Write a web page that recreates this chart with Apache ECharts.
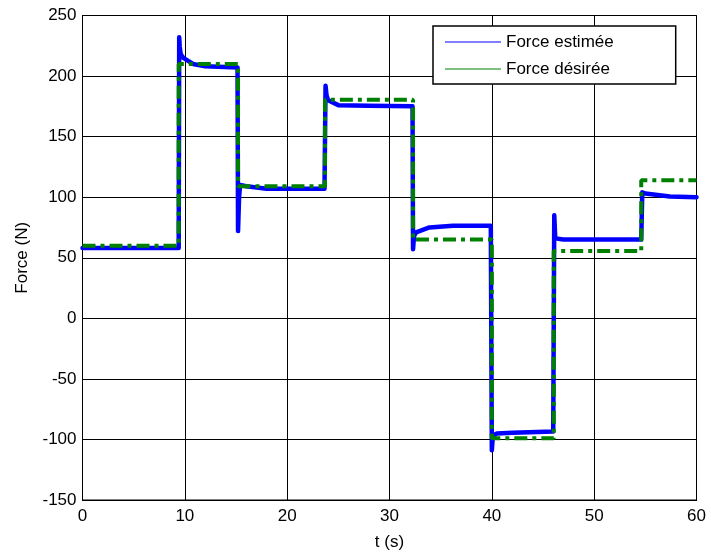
<!DOCTYPE html>
<html>
<head>
<meta charset="utf-8">
<script src="https://cdn.jsdelivr.net/npm/echarts@6/dist/echarts.min.js"></script>
<style>html,body{margin:0;padding:0;background:#fff}#c{width:711px;height:553px}</style>
</head>
<body>
<div id="c"></div>
<script>
// Estimated force (blue) — times (s) and values (N)
const tEst = [0, 5, 9.4, 9.45, 9.5, 9.6, 9.85, 10.8, 12, 15.15, 15.2, 15.3, 15.4, 16, 18, 21, 23.65, 23.75, 23.85, 24.0, 25, 28, 32.25, 32.3, 32.4, 32.6, 33.9, 36.2, 39.9, 40.0, 40.1, 40.5, 42, 46.0, 46.1, 46.2, 47, 50, 54.6, 54.7, 55, 57.4, 60];
const fEst = [58, 58, 58, 232, 224, 218, 215, 210, 208, 207, 72, 100, 110, 109, 107, 107, 107, 192, 184, 180, 176, 175.5, 175, 57, 68, 71, 75, 76.5, 76.5, -109, -97, -95, -94.5, -93.5, 85, 66, 65, 65, 65, 104, 103, 100.5, 100];
// Desired force (green) — step changes
const tDes = [0, 9.4, 15.2, 23.7, 32.3, 40.0, 46.05, 54.6, 60];
const fDes = [60, 210, 109, 180.5, 65, -99, 55.5, 114, 114];

const seriesNames = ['Force estimée', 'Force désirée'];

const chart = echarts.init(document.getElementById('c'), null, {renderer: 'canvas'});
const font = 'Arial, "Liberation Sans", sans-serif';
chart.setOption({
  animation: false,
  backgroundColor: '#fff',
  grid: {left: 82.5, right: 14.5, top: 15.5, bottom: 53, containLabel: false, outerBoundsMode: 'none',
         show: true, borderColor: '#000', borderWidth: 1, backgroundColor: 'transparent'},
  legend: {
    orient: 'vertical', left: 433, top: 26,
    padding: [7, 62, 6, 12], itemGap: 9,
    backgroundColor: '#fff', borderColor: '#000', borderWidth: 1.5,
    itemWidth: 56, itemHeight: 1.2, icon: 'rect',
    itemStyle: {borderWidth: 0},
    lineStyle: {width: 1.5, type: 'solid'},
    textStyle: {fontFamily: font, fontSize: 17, color: '#000', lineHeight: 18},
    data: seriesNames
  },
  xAxis: {
    type: 'value', min: 0, max: 60, interval: 10,
    name: 't (s)', nameLocation: 'middle', nameGap: 34,
    nameTextStyle: {fontFamily: font, fontSize: 17, color: '#000'},
    axisLine: {onZero: false, lineStyle: {color: '#000', width: 1}},
    axisTick: {inside: true, length: 5, lineStyle: {color: '#000'}},
    axisLabel: {fontFamily: font, fontSize: 17, color: '#000', margin: 8},
    splitLine: {show: true, lineStyle: {color: '#000', width: 1}}
  },
  yAxis: {
    type: 'value', min: -150, max: 250, interval: 50,
    name: 'Force (N)', nameLocation: 'middle', nameGap: 52,
    nameTextStyle: {fontFamily: font, fontSize: 17, color: '#000'},
    axisLine: {onZero: false, lineStyle: {color: '#000', width: 1}},
    axisTick: {inside: true, length: 5, lineStyle: {color: '#000'}},
    axisLabel: {fontFamily: font, fontSize: 17, color: '#000', margin: 6},
    splitLine: {show: true, lineStyle: {color: '#000', width: 1}}
  },
  series: [
    {
      name: seriesNames[0], type: 'line', showSymbol: false, symbol: 'none',
      data: tEst.map((t, i) => [t, fEst[i]]),
      itemStyle: {color: '#0000ff'},
      lineStyle: {color: '#0000ff', width: 4.5, join: 'round', cap: 'round'},
      z: 2
    },
    {
      name: seriesNames[1], type: 'line', showSymbol: false, symbol: 'none', step: 'end',
      data: tDes.map((t, i) => [t, fDes[i]]),
      itemStyle: {color: '#008000'},
      lineStyle: {color: '#008000', width: 4, type: [13, 5, 4, 5]},
      z: 3
    }
  ]
});
</script>
</body>
</html>
